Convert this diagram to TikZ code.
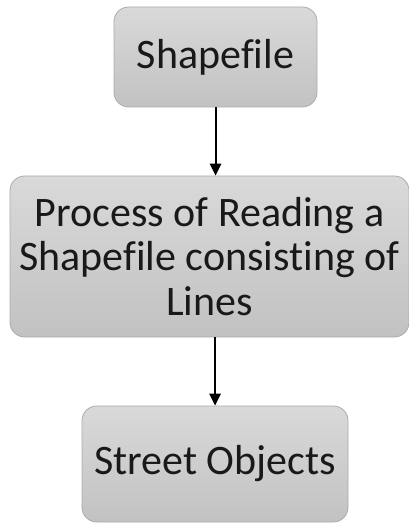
\documentclass[tikz,border=0pt]{standalone}
\usepackage{fontspec}
\setmainfont[Ligatures={NoCommon}]{Carlito}
\usetikzlibrary{arrows.meta}
\definecolor{boxtop}{HTML}{D9D9D9}
\definecolor{boxbottom}{HTML}{C2C2C2}
\definecolor{boxline}{HTML}{ABABAB}
\tikzset{
  flowbox/.style={draw=boxline, line width=0.6pt, rounded corners=11pt,
    top color=boxtop, bottom color=boxbottom, inner sep=0pt,
    align=center, font=\fontsize{31.5}{33.5}\selectfont, text=black!90},
  flowarrow/.style={draw=black, line width=1.5pt,
    -{Triangle[length=9pt,width=8.5pt]}}
}
\begin{document}
\begin{tikzpicture}[x=0.75pt, y=-0.75pt]
  \useasboundingbox (0,0) rectangle (409,523);
  \node[flowbox, minimum width=152.25pt, minimum height=75pt] (src) at (215.5,57) {Shapefile};
  \node[flowbox, minimum width=299.25pt, minimum height=120.75pt] (proc) at (209.5,256.5)
    {Process of Reading a\\Shapefile consisting of\\Lines};
  \node[flowbox, minimum width=199.5pt, minimum height=87pt] (out) at (215,464) {Street Objects};
  \draw[flowarrow] (src.south) -- (src.south |- proc.north);
  \draw[flowarrow] (out.north |- proc.south) -- (out.north);
\end{tikzpicture}
\end{document}
